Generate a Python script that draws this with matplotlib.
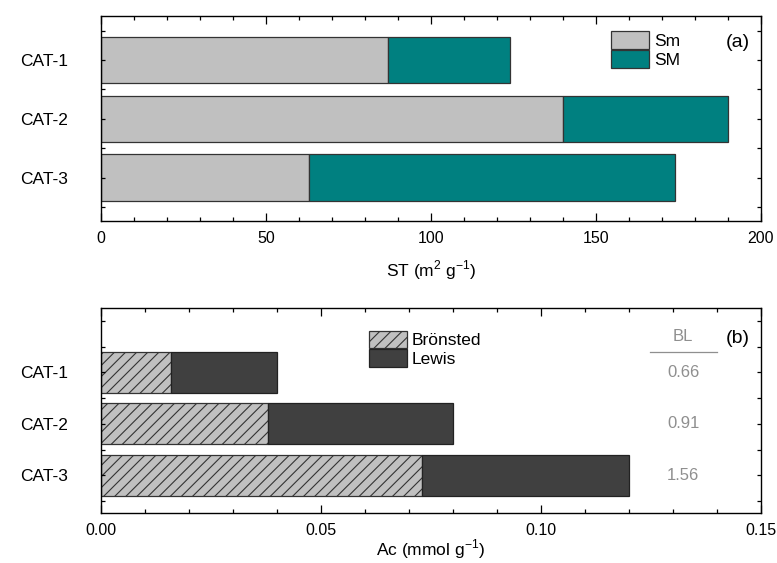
import matplotlib
matplotlib.use("Agg")
import matplotlib.pyplot as plt
from matplotlib.ticker import MultipleLocator

plt.rcParams["font.family"] = ["Liberation Sans", "DejaVu Sans"]
plt.rcParams["hatch.linewidth"] = 0.8
plt.rcParams["mathtext.fontset"] = "custom"
plt.rcParams["mathtext.rm"] = "Liberation Sans"

# --- data ---
cats = ["CAT-1", "CAT-2", "CAT-3"]
sm_small = [87, 140, 63]     # Sm
sm_large = [37, 50, 111]     # SM (stacked on Sm)
bronsted = [0.016, 0.038, 0.073]
lewis = [0.024, 0.042, 0.047]
bl_ratio = ["0.66", "0.91", "1.56"]

ypos = [1, 2, 3]
GREY = "#8f8f8f"

fig = plt.figure(figsize=(7.77, 5.63), dpi=100)
ax1 = fig.add_axes([101 / 777, 1 - 221 / 563, 660 / 777, 205 / 563])
ax2 = fig.add_axes([101 / 777, 1 - 513 / 563, 660 / 777, 205 / 563])


def style_axis(ax):
    ax.tick_params(which="both", direction="in", top=True, right=True,
                   width=0.9)
    ax.tick_params(axis="x", labelsize=11.5, pad=7)
    ax.tick_params(axis="x", which="major", length=6)
    ax.tick_params(axis="x", which="minor", length=3)
    ax.tick_params(axis="y", which="both", length=3)
    ax.tick_params(axis="y", which="major", pad=24, labelsize=12.5)
    ax.yaxis.set_minor_locator(MultipleLocator(0.5))
    for sp in ax.spines.values():
        sp.set_linewidth(1.0)


leg_kw = dict(frameon=False, fontsize=12.5, handlelength=2.2,
              handleheight=1.2, handletextpad=0.25, labelspacing=0.05,
              borderpad=0, borderaxespad=0, loc="upper left")

# --- panel (a) ---
ax1.barh(ypos, sm_small, height=0.79, color="#c0c0c0", edgecolor="#333333",
         linewidth=0.9, label="Sm")
ax1.barh(ypos, sm_large, left=sm_small, height=0.79, color="#008080",
         edgecolor="#333333", linewidth=0.9, label="SM")
ax1.set_xlim(0, 200)
ax1.set_ylim(3.74, 0.25)
ax1.set_yticks(ypos)
ax1.set_yticklabels(cats)
ax1.xaxis.set_major_locator(MultipleLocator(50))
ax1.xaxis.set_minor_locator(MultipleLocator(10))
ax1.set_xlabel("ST (m$^{2}$ g$^{-1}$)", fontsize=12.5, labelpad=9)
style_axis(ax1)
ax1.legend(bbox_to_anchor=(0.773, 0.925), **leg_kw)
ax1.text(0.965, 0.873, "(a)", transform=ax1.transAxes, fontsize=14,
         ha="center", va="center")

# --- panel (b) ---
ax2.barh(ypos, bronsted, height=0.8, color="#c0c0c0", edgecolor="#333333",
         linewidth=0.9, hatch="///", label="Brönsted")
ax2.barh(ypos, lewis, left=bronsted, height=0.8, color="#404040",
         edgecolor="#222222", linewidth=0.9, label="Lewis")
ax2.set_xlim(0, 0.15)
ax2.set_ylim(3.73, -0.25)
ax2.set_yticks(ypos)
ax2.set_yticklabels(cats)
ax2.xaxis.set_major_locator(MultipleLocator(0.05))
ax2.xaxis.set_minor_locator(MultipleLocator(0.01))
ax2.xaxis.set_major_formatter(plt.FormatStrFormatter("%.2f"))
ax2.set_xlabel("Ac (mmol g$^{-1}$)", fontsize=12.5, labelpad=0)
style_axis(ax2)
ax2.legend(bbox_to_anchor=(0.406, 0.89), **leg_kw)
ax2.text(0.965, 0.852, "(b)", transform=ax2.transAxes, fontsize=14,
         ha="center", va="center")

bl_x = 0.1323
ax2.text(bl_x, 0.31, "BL", color=GREY, fontsize=12,
         ha="center", va="center")
ax2.plot([0.1248, 0.1400], [0.60, 0.60], color=GREY, lw=0.9)
for y, v in zip(ypos, bl_ratio):
    ax2.text(bl_x, y, v, color=GREY, fontsize=12,
             ha="center", va="center")

fig.savefig("out.png", dpi=100)
